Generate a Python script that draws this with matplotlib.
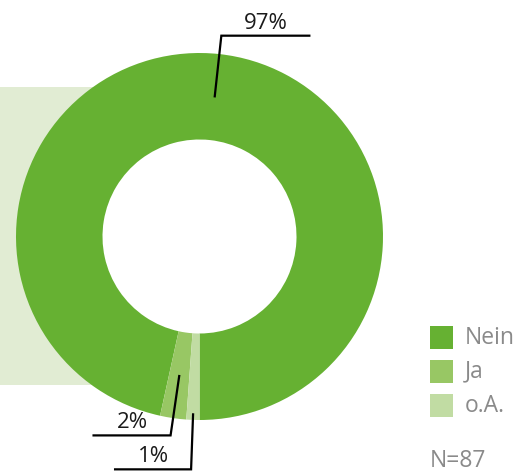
import numpy as np
import matplotlib
matplotlib.use("Agg")
import matplotlib.pyplot as plt
from matplotlib.patches import Rectangle

plt.rcParams["font.family"] = ["Open Sans", "DejaVu Sans"]

categories = ["Nein", "Ja", "o.A."]
counts = [84, 2, 1]
value_labels = ["97%", "2%", "1%"]
colors = ["#66b132", "#98c764", "#c1dca3"]
sample_note = "N=87"

W, H = 531, 472
fig = plt.figure(figsize=(W / 100, H / 100), dpi=100)
ax = fig.add_axes([0, 0, 1, 1])

# light background panel behind the donut
ax.add_patch(Rectangle((0, H - 385), 100, 298, color="#e1ecd3", lw=0, zorder=0))

cx, cy = 199.5, H - 236.5
r_out, r_in = 183.5, 97
wedges, _ = ax.pie(
    counts,
    colors=colors,
    startangle=270,
    counterclock=True,
    radius=r_out,
    center=(cx, cy),
    wedgeprops=dict(width=r_out - r_in, linewidth=0, edgecolor="none"),
)
for w in wedges:
    w.set_zorder(2)

# leader lines: (start radius, elbow radius, horizontal length, direction)
leaders = [(141, 202, 88, 1), (141, 201, 77, -1), (178, 233, 76, -1)]
for w, label, (r0, r1, hl, d) in zip(wedges, value_labels, leaders):
    ang = np.deg2rad((w.theta1 + w.theta2) / 2)
    x0, y0 = cx + r0 * np.cos(ang), cy + r0 * np.sin(ang)
    x1, y1 = cx + r1 * np.cos(ang), cy + r1 * np.sin(ang)
    x2 = x1 + d * hl
    ax.plot([x0, x1, x2], [y0, y1, y1], color="black", lw=1.6,
            solid_joinstyle="miter", zorder=3)
    ax.text((x1 + x2) / 2, y1 + 2, label, ha="center", va="bottom",
            fontsize=16, color="#1a1a1a", zorder=3)

# legend
for i, (cat, col) in enumerate(zip(categories, colors)):
    top = 326 + i * 34
    ax.add_patch(Rectangle((430, H - top - 23), 23, 23, color=col, lw=0))
    ax.text(465, H - top - 11.5, cat, ha="left", va="center",
            fontsize=16.5, color="#8a8a8a")

ax.text(430, H - 461, sample_note, ha="left", va="center",
        fontsize=16.5, color="#8a8a8a")

ax.set_xlim(0, W)
ax.set_ylim(0, H)
ax.set_aspect("auto")
ax.axis("off")

fig.savefig("out.png", dpi=100, facecolor="white")
